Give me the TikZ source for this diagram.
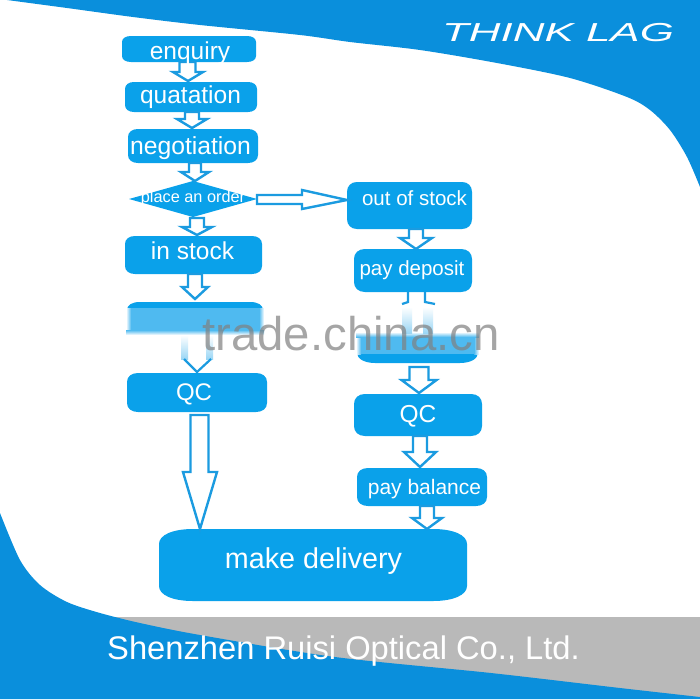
\documentclass[tikz,border=0pt]{standalone}
\usepackage{fontspec}
\setmainfont{Liberation Sans}
\usetikzlibrary{calc,shapes.geometric}
\definecolor{bgblue}{HTML}{0A8FDC}
\definecolor{boxblue}{HTML}{0AA1EA}
\definecolor{lineblue}{HTML}{1B9BE0}
\definecolor{softblue}{HTML}{4FBAF0}
\definecolor{streakblue}{HTML}{9AD6F5}
\definecolor{bandgrey}{HTML}{B9B9B9}
\tikzset{
  boxfill/.style={fill=boxblue},
  boxshape/.style={inner sep=0pt,outer sep=0pt},
  lab/.style={text=white,anchor=base,inner sep=0pt,font=\fontsize{#1}{#1}\selectfont},
  blockarrow/.style={draw=lineblue,line width=2.4pt,fill=white,line join=miter},
  thinbarb/.style={draw=lineblue,line width=2.2pt},
}
% flow box: name, x1, y1, x2, y2, corner rx, corner ry
\newcommand\flowbox[7]{%
  \fill[boxfill] (#2,{#3+#7}) .. controls (#2,{#3+.4*#7}) and ({#2+.4*#6},#3) .. ({#2+#6},#3)
    -- ({#4-#6},#3) .. controls ({#4-.4*#6},#3) and (#4,{#3+.4*#7}) .. (#4,{#3+#7})
    -- (#4,{#5-#7}) .. controls (#4,{#5-.4*#7}) and ({#4-.4*#6},#5) .. ({#4-#6},#5)
    -- ({#2+#6},#5) .. controls ({#2+.4*#6},#5) and (#2,{#5-.4*#7}) .. (#2,{#5-#7}) -- cycle;
  \node[boxshape,minimum width={(#4-#2)*1pt},minimum height={(#5-#3)*1pt}] (#1) at ({(#2+#4)/2},{(#3+#5)/2}) {};
}
% vertical block arrow: start, tip, shaft half width, head half width, head length
\newcommand\downarrowblock[5]{%
  \draw[blockarrow] let \p1=(#1), \p2=(#2) in
    ({\x1-#3pt},\y1) -- ({\x1-#3pt},{\y2+#5pt}) -- ({\x2-#4pt},{\y2+#5pt}) -- (\x2,\y2)
    -- ({\x2+#4pt},{\y2+#5pt}) -- ({\x1+#3pt},{\y2+#5pt}) -- ({\x1+#3pt},\y1) -- cycle;
}
% horizontal block arrow
\newcommand\rightarrowblock[5]{%
  \draw[blockarrow] let \p1=(#1), \p2=(#2) in
    (\x1,{\y1+#3pt}) -- ({\x2-#5pt},{\y1+#3pt}) -- ({\x2-#5pt},{\y1+#4pt}) -- (\x2,\y2)
    -- ({\x2-#5pt},{\y1-#4pt}) -- ({\x2-#5pt},{\y1-#3pt}) -- (\x1,{\y1-#3pt}) -- cycle;
}
\begin{document}
\begin{tikzpicture}[x=1pt,y=-1pt]
\useasboundingbox (0,0) rectangle (700,699);
\fill[white] (0,0) rectangle (700,699);
% top and bottom sweeps
\fill[bgblue] plot[smooth,tension=.5] coordinates {(7,0) (67,8) (133,17) (200,25) (300,35) (350,42) (420,50) (497,63) (570,78) (627,97) (650,110) (670,130) (687,157) (700,187)} -- (700,0) -- cycle;
\fill[bandgrey] (100,617) rectangle (700,699);
\fill[bgblue] plot[smooth,tension=.5] coordinates {(0,513) (20,560) (40,585) (67,602) (100,613) (140,623) (200,635) (335,657) (491,673) (620,688) (700,697)} -- (700,699) -- (0,699) -- cycle;
\node[transform shape,xscale=1.69,lab=26] (logo) at (558,41) {\itshape THINK LAG};

% boxes
\flowbox{enq}{122}{36}{256}{62}{9}{6}
\flowbox{quat}{125}{82}{257}{112}{9}{7}
\flowbox{neg}{128}{129}{258}{163}{10}{8}
\node[diamond,fill=boxblue,aspect=3.55,minimum width=128pt,minimum height=36pt,inner sep=0pt,outer sep=0pt] (order) at (193,199) {};
\flowbox{instock}{125}{236}{262}{274}{10}{8}
\flowbox{qcl}{127}{373}{267}{412}{11}{9}
\flowbox{oos}{347}{182}{472}{229}{10}{10}
\flowbox{payd}{354}{249}{472}{292}{11}{10}
\flowbox{qcr}{354}{394}{482}{436}{11}{10}
\flowbox{payb}{357}{468}{487}{506}{11}{9}
\flowbox{deliv}{159}{529}{467}{601}{34}{15}

% half-blurred boxes
\fill[boxfill] (127,310) .. controls (127,305) and (132,302) .. (140,302) -- (250,302) .. controls (258,302) and (263,305) .. (263,310) -- cycle;
\fill[softblue] (131,308) rectangle (259,330);
\shade[left color=white,right color=softblue] (126,308) rectangle (131,330);
\shade[left color=softblue,right color=white] (259,308) rectangle (264,330);
\shade[top color=softblue,bottom color=white] (126,330) rectangle (264,335);
\node[boxshape,minimum width=136pt,minimum height=31pt] (blurl) at (195,317.5) {};

\fill[boxfill] (357,353) -- (478,353) .. controls (478,359) and (470,363) .. (460,363) -- (375,363) .. controls (365,363) and (357,359) .. (357,353) -- cycle;
\fill[softblue] (361,337) rectangle (474,354);
\shade[left color=white,right color=softblue] (356,337) rectangle (361,354);
\shade[left color=softblue,right color=white] (474,337) rectangle (479,354);
\shade[top color=white,bottom color=softblue] (356,332) rectangle (479,337);
\node[boxshape,minimum width=121pt,minimum height=30pt] (blurr) at (417.5,348) {};

% connectors
\downarrowblock{$(enq.south)+(-1.5,0)$}{$(quat.north)+(-3,-1)$}{8}{15}{9}
\downarrowblock{$(quat.south)+(1,0)$}{$(neg.north)+(-1,-1)$}{7}{15}{9}
\downarrowblock{$(neg.south)+(2,0)$}{$(order.north)+(2,0)$}{6}{14}{9}
\downarrowblock{$(order.south)+(4,1)$}{$(instock.north)+(3.5,-1)$}{7}{15}{8}
\downarrowblock{$(instock.south)+(1.5,0)$}{$(blurl.north)+(0,-3)$}{7}{13}{12}
\downarrowblock{$(qcl.south)+(2.5,3)$}{$(deliv.north)+(-113,0)$}{9}{17}{57}
\downarrowblock{$(oos.south)+(6.5,0)$}{$(payd.north)+(3,0)$}{7}{16}{11}
\downarrowblock{$(blurr.south)+(1.5,4)$}{$(qcr.north)+(1,-1)$}{9.5}{17.5}{13}
\downarrowblock{$(qcr.south)+(2,0)$}{$(payb.north)+(-2,-1)$}{7}{16}{15}
\downarrowblock{$(payb.south)+(5,0)$}{$(deliv.north)+(114,0)$}{7}{15}{11}
\rightarrowblock{$(order.east)+(0,.5)$}{$(oos.west)+(0,-5.5)$}{4.5}{9.5}{45}

% faded arrow into the left QC box
\shade[top color=white,bottom color=streakblue] ($(blurl.south)+(-14,2)$) rectangle ($(qcl.north)+(-9,-14)$);
\shade[top color=white,bottom color=streakblue] ($(blurl.south)+(11,2)$) rectangle ($(qcl.north)+(16,-14)$);
\draw[thinbarb] let \p1=(blurl.south), \p2=(qcl.north) in ({\x2-13pt},{\y2+14pt}) -- (\x2,{\y2+1pt}) -- ({\x2+14pt},{\y2+14pt});

% faded arrow between pay deposit and the right blurred box
\draw[thinbarb] (408,292) -- (408,302) -- (402,304);
\draw[thinbarb] (425,292) -- (425,302) -- (435,304);
\shade[top color=white,bottom color=streakblue] (402,307) rectangle (412,333);
\shade[top color=white,bottom color=streakblue] (423,307) rectangle (433,333);

% labels
\node[lab=24.5] (tenq) at (190,59) {enquiry};
\node[lab=24.5] (tquat) at (190.5,103) {quatation};
\node[lab=24.7] (tneg) at (190.5,154) {negotiation};
\node[lab=16.3] (torder) at (193,202) {place an order};
\node[lab=24.5] (tinstock) at (192.5,259) {in stock};
\node[lab=24] (tqcl) at (194,400) {QC};
\node[lab=20.5] (toos) at (414.5,205) {out of stock};
\node[lab=20.5] (tpayd) at (412,275) {pay deposit};
\node[lab=24.5] (tqcr) at (418,422) {QC};
\node[lab=21] (tpayb) at (424.5,494) {pay balance};
\node[lab=28.7] (tdeliv) at (313.5,568) {make delivery};
\node[lab=32.7] (tcompany) at (343.5,659) {Shenzhen Ruisi Optical Co., Ltd.};
\node[lab=47.3,text=gray,text opacity=.7] (twater) at (351,350) {trade.china.cn};
\end{tikzpicture}
\end{document}
